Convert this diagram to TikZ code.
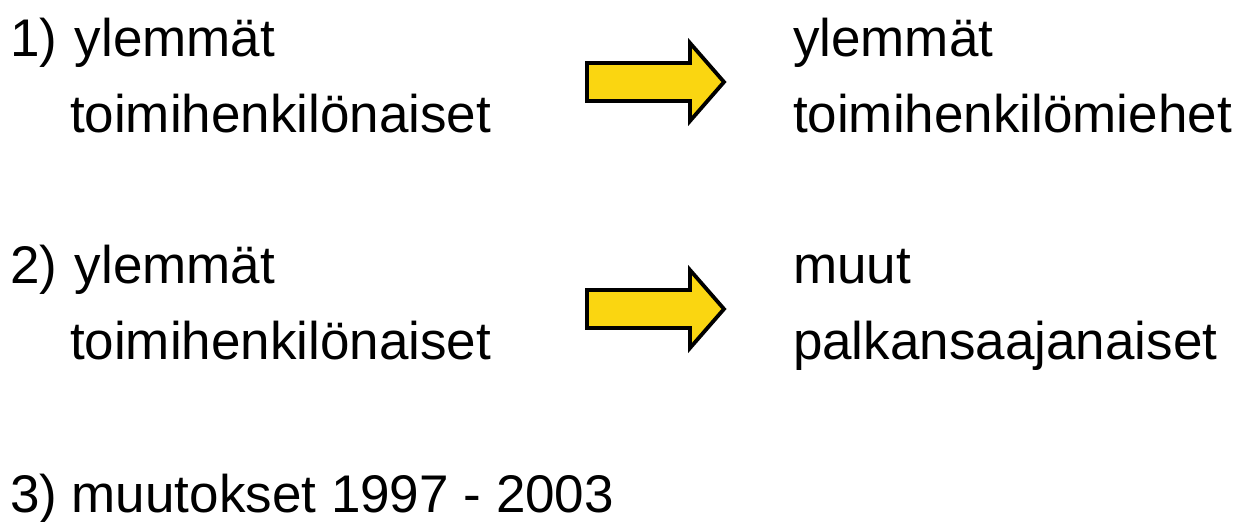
\documentclass[tikz,border=0pt]{standalone}
\usepackage{fontspec}
\setmainfont{Liberation Sans}
\definecolor{arrowyellow}{RGB}{250,214,17}
\tikzset{
  txt/.style={anchor=base west, inner sep=0pt, outer sep=0pt, font=\fontsize{53}{60}\selectfont, text=black},
  blockarrow/.style={draw=black, line width=3.8pt, fill=arrowyellow, line join=miter}
}
\begin{document}
\begin{tikzpicture}[x=1pt,y=-1pt]
\useasboundingbox (0,0) rectangle (1243,522);
% row 1
\node[txt] (l1a) at (10,56) {1)\hspace{3pt} ylemmät};
\node[txt] (l1b) at (70,132) {toimihenkilönaiset};
\node[txt] (r1a) at (793,56) {ylemmät};
\node[txt] (r1b) at (793,132) {toimihenkilömiehet};
\draw[blockarrow] (587,63) -- (690,63) -- (690,43) -- (724,82) -- (690,121) -- (690,101) -- (587,101) -- cycle;
% row 2
\node[txt] (l2a) at (10,283) {2)\hspace{3pt} ylemmät};
\node[txt] (l2b) at (70,359) {toimihenkilönaiset};
\node[txt] (r2a) at (793,283) {muut};
\node[txt] (r2b) at (793,359) {palkansaajanaiset};
\draw[blockarrow] (587,290) -- (690,290) -- (690,270) -- (724,309) -- (690,348) -- (690,328) -- (587,328) -- cycle;
% row 3
\node[txt] (l3) at (10,512) {3) muutokset 1997 - 2003};
\end{tikzpicture}
\end{document}
